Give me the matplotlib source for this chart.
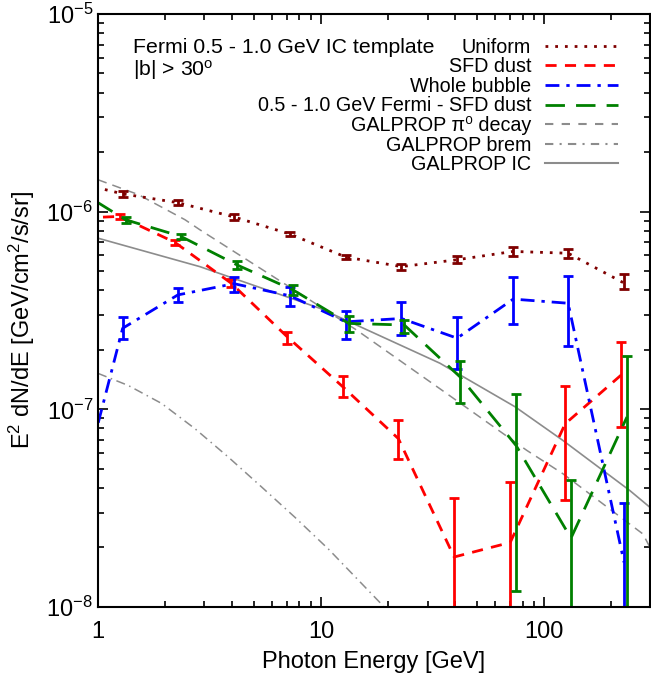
import numpy as np
import matplotlib
matplotlib.use("Agg")
import matplotlib.pyplot as plt
from matplotlib.lines import Line2D

plt.rcParams['font.family'] = ['Liberation Sans', 'DejaVu Sans']
plt.rcParams['mathtext.fontset'] = 'custom'
plt.rcParams['mathtext.rm'] = 'Liberation Sans'
plt.rcParams['mathtext.it'] = 'Liberation Sans:italic'

# ---- data ----
energy = [0.727, 1.29, 2.28, 4.07, 7.26, 12.9, 22.9, 40.7, 72.6, 128, 228]

uniform = [1.44e-6, 1.23e-6, 1.11e-6, 9.4e-7, 7.7e-7, 5.89e-7, 5.27e-7, 5.71e-7, 6.29e-7, 6.16e-7, 4.35e-7]
uniform_hi = [np.nan, 1.27e-6, 1.14e-6, 9.7e-7, 7.9e-7, 6.05e-7, 5.45e-7, 5.95e-7, 6.6e-7, 6.5e-7, 4.84e-7]
uniform_lo = [np.nan, 1.19e-6, 1.08e-6, 9.1e-7, 7.5e-7, 5.73e-7, 5.09e-7, 5.47e-7, 5.98e-7, 5.82e-7, 4.04e-7]

sfd = [9.2e-7, 9.46e-7, 6.99e-7, 4.35e-7, 2.33e-7, 1.30e-7, 7.1e-8, 1.79e-8, 2.12e-8, 8.45e-8, 1.49e-7]
sfd_hi = [np.nan, 9.7e-7, 7.2e-7, 4.55e-7, 2.47e-7, 1.47e-7, 8.8e-8, 3.55e-8, 4.28e-8, 1.31e-7, 2.20e-7]
sfd_lo = [np.nan, 9.2e-7, 6.8e-7, 4.15e-7, 2.15e-7, 1.15e-7, 5.6e-8, 1e-9, 1e-9, 3.48e-8, 8.13e-8]

bubble = [2.1e-8, 2.57e-7, 3.79e-7, 4.32e-7, 3.75e-7, 2.77e-7, 2.88e-7, 2.29e-7, 3.61e-7, 3.44e-7, 1.68e-8]
bubble_hi = [np.nan, 2.94e-7, 4.10e-7, 4.66e-7, 4.15e-7, 3.15e-7, 3.47e-7, 2.94e-7, 4.66e-7, 4.70e-7, 3.34e-8]
bubble_lo = [np.nan, 2.26e-7, 3.51e-7, 3.94e-7, 3.33e-7, 2.26e-7, 2.38e-7, 1.59e-7, 2.70e-7, 2.09e-7, 1e-9]

fermi_sfd = [1.36e-6, 9.1e-7, 7.5e-7, 5.38e-7, 4.02e-7, 2.72e-7, 2.67e-7, 1.46e-7, 6.56e-8, 2.23e-8, 9.14e-8]
fermi_sfd_hi = [np.nan, 9.4e-7, 7.75e-7, 5.6e-7, 4.26e-7, 2.96e-7, 2.83e-7, 1.76e-7, 1.19e-7, 4.39e-8, 1.86e-7]
fermi_sfd_lo = [np.nan, 8.8e-7, 7.25e-7, 5.1e-7, 3.79e-7, 2.47e-7, 2.42e-7, 1.07e-7, 1.2e-8, 1e-9, 1e-9]

ic_e = [1, 2.86, 9.9, 34.1, 74, 121, 242, 298]
ic = [7.34e-7, 5.27e-7, 3.24e-7, 1.71e-7, 1.03e-7, 6.97e-8, 3.88e-8, 3.19e-8]
pi0_e = [1, 1.516, 2.455, 2.86, 8.92, 14.4, 34.1, 83.5, 121, 277, 298]
pi0 = [1.45e-6, 1.22e-6, 9.1e-7, 8.1e-7, 3.57e-7, 2.52e-7, 1.27e-7, 6.2e-8, 4.73e-8, 2.34e-8, 2.0e-8]
brem_e = [1, 1.367, 1.93, 2.72, 3.84, 5.42, 7.64, 10.8, 18.7, 40]
brem = [1.52e-7, 1.32e-7, 1.07e-7, 7.98e-8, 5.73e-8, 4.04e-8, 2.84e-8, 1.96e-8, 1.03e-8, 4.0e-9]

labels = ["Uniform", "SFD dust", "Whole bubble", "0.5 - 1.0 GeV Fermi - SFD dust",
          "GALPROP \u03c0\u2070 decay", "GALPROP brem", "GALPROP IC"]

# ---- figure ----
fig = plt.figure(figsize=(6.51, 6.81), dpi=100)
ax = fig.add_axes([0.1505, 0.1087, 0.848, 0.8708])
ax.set_xscale('log')
ax.set_yscale('log')

gray = '#8c8c8c'
ax.plot(pi0_e, pi0, color=gray, lw=1.1, ls=(0, (6, 4)))
ax.plot(brem_e, brem, color=gray, lw=1.1, ls=(0, (6, 3, 1, 3)))
ax.plot(ic_e, ic, color=gray, lw=1.2, ls='-')

E = np.array(energy)

def series(xfac, vals, lo, hi, color, ls):
    x = E * xfac
    v = np.array(vals)
    lo = np.array(lo); hi = np.array(hi)
    ax.plot(x, v, color=color, lw=2.0, ls=ls)
    yerr = np.vstack([v - lo, hi - v])
    m = ~np.isnan(lo)
    ax.errorbar(x[m], v[m], yerr=yerr[:, m], fmt='none', ecolor=color,
                elinewidth=2.0, capsize=3.5, capthick=2.0)

series(1.0, uniform, uniform_lo, uniform_hi, '#7f0000', (0, (1, 2.5)))
series(0.97, sfd, sfd_lo, sfd_hi, '#ff0000', (0, (4, 3)))
series(1.0, bubble, bubble_lo, bubble_hi, '#0000ff', (0, (5, 2.5, 1.2, 2.5)))
series(1.03, fermi_sfd, fermi_sfd_lo, fermi_sfd_hi, '#008000', (0, (7, 4)))

ax.set_xlim(1, 298)
ax.set_ylim(1e-8, 1e-5)

ax.tick_params(which='both', direction='in', top=True, right=True, width=1.2, labelsize=17)
ax.tick_params(which='major', length=7.5)
ax.tick_params(which='minor', length=4)
for s in ax.spines.values():
    s.set_linewidth(1.5)
ax.xaxis.set_major_formatter(matplotlib.ticker.FuncFormatter(lambda v, p: f"{int(round(v))}"))
ax.tick_params(axis='x', pad=10)
ax.set_xlabel("Photon Energy [GeV]", fontsize=17, labelpad=6)
ax.set_ylabel(r"E$^2$ dN/dE [GeV/cm$^2$/s/sr]", fontsize=17)
ax.yaxis.set_label_coords(-0.111, 0.484)

handles = [
    Line2D([], [], color='#7f0000', lw=2.0, ls=(0, (1, 2.5))),
    Line2D([], [], color='#ff0000', lw=2.0, ls=(0, (4, 3))),
    Line2D([], [], color='#0000ff', lw=2.0, ls=(0, (5, 2.5, 1.2, 2.5))),
    Line2D([], [], color='#008000', lw=2.0, ls=(0, (7, 4))),
    Line2D([], [], color=gray, lw=1.5, ls=(0, (4, 4))),
    Line2D([], [], color=gray, lw=1.5, ls=(0, (4, 3, 1, 3))),
    Line2D([], [], color=gray, lw=1.5, ls='-'),
]
leg = ax.legend(handles, labels, loc='upper right', bbox_to_anchor=(0.942, 0.96),
                frameon=False, markerfirst=False, fontsize=14.2, handlelength=3.7,
                labelspacing=0.03, handletextpad=0.7, borderpad=0, borderaxespad=0)

ax.text(0.064, 0.944, "Fermi 0.5 - 1.0 GeV IC template", transform=ax.transAxes,
        fontsize=15.3, va='center', ha='left')
ax.text(0.064, 0.905, r"|b| > 30$^\mathrm{o}$", transform=ax.transAxes,
        fontsize=15.3, va='center', ha='left')

fig.savefig("out.png", dpi=100)
